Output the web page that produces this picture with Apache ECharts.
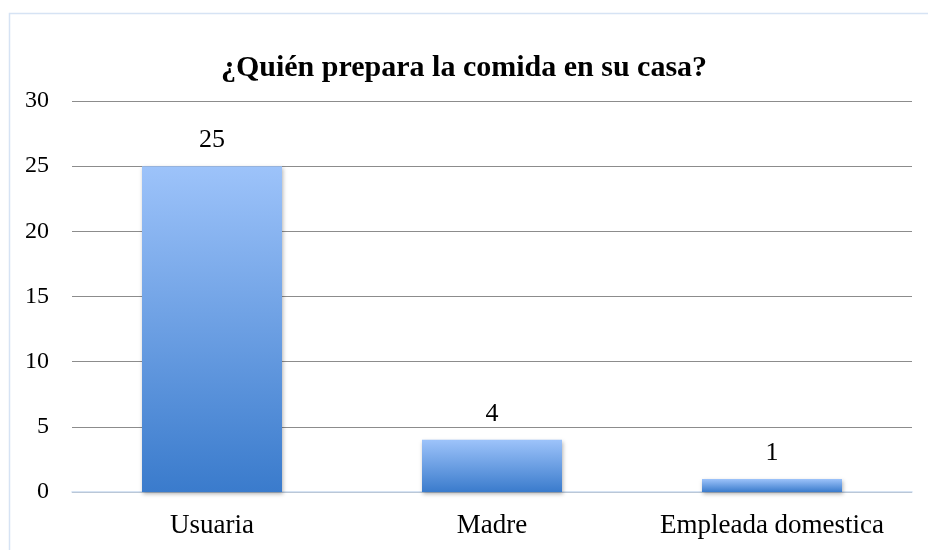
<!DOCTYPE html>
<html><head><meta charset="utf-8">
<script src="https://cdn.jsdelivr.net/npm/echarts@6/dist/echarts.min.js"></script>
<style>html,body{margin:0;padding:0;background:#fff}#c{width:928px;height:550px}</style>
</head><body><div id="c"></div>
<script>
const titleText = '¿Quién prepara la comida en su casa?';
const categories = ['Usuaria', 'Madre', 'Empleada domestica'];
const values = [25, 4, 1];
const yMin = 0, yMax = 30, yStep = 5;

const chart = echarts.init(document.getElementById('c'));
const serif = '"Liberation Serif", "Times New Roman", serif';
chart.setOption({
  animation: false,
  backgroundColor: '#fff',
  graphic: [{
    type: 'rect', left: 7, top: 11, shape: {width: 940, height: 560},
    style: {fill: 'none', stroke: '#D6E3F4', lineWidth: 1.5}, silent: true
  }],
  title: {
    text: titleText, left: 'center', top: 48,
    textStyle: {fontFamily: serif, fontSize: 30, fontWeight: 'bold', color: '#000'}
  },
  grid: {left: 72, right: 16, top: 101, bottom: 58},
  xAxis: {
    type: 'category', data: categories,
    axisLine: {show: true, lineStyle: {color: '#C9DAF0', width: 1.5}},
    axisTick: {show: false},
    axisLabel: {interval: 0, hideOverlap: false, fontFamily: serif, fontSize: 27, color: '#000', margin: 20}
  },
  yAxis: {
    type: 'value', min: yMin, max: yMax, interval: yStep,
    axisLine: {show: false}, axisTick: {show: false},
    axisLabel: {fontFamily: serif, fontSize: 24, color: '#000', margin: 23},
    splitLine: {lineStyle: {color: '#8C8C8C', width: 1}}
  },
  series: [{
    type: 'bar', data: values, barWidth: '50%',
    itemStyle: {
      color: new echarts.graphic.LinearGradient(0, 0, 0, 1, [
        {offset: 0, color: '#9DC3FA'},
        {offset: 1, color: '#3A7BCC'}
      ]),
      shadowColor: 'rgba(0,0,0,0.3)', shadowBlur: 4, shadowOffsetX: 1, shadowOffsetY: 2
    },
    label: {show: true, position: 'top', distance: 13, fontFamily: serif, fontSize: 26, color: '#000'}
  }]
});
</script></body></html>
